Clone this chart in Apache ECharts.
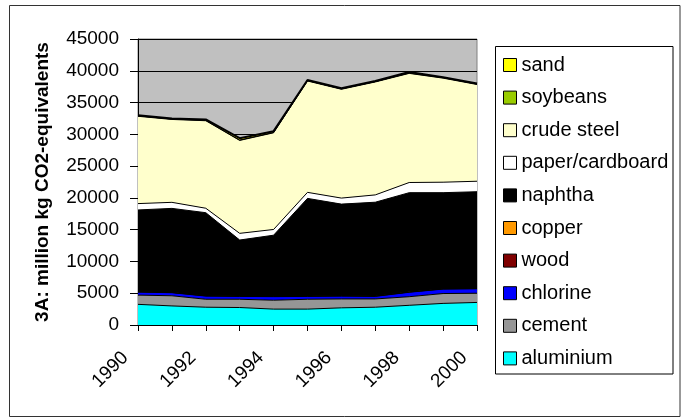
<!DOCTYPE html>
<html>
<head>
<meta charset="utf-8">
<script src="https://cdn.jsdelivr.net/npm/echarts@6/dist/echarts.min.js"></script>
<style>
  html, body { margin: 0; padding: 0; background: #fff; }
  #chart { width: 681px; height: 418px; }
</style>
</head>
<body>
<div id="chart"></div>
<script>
// years on the x axis
const years = ['1990', '1991', '1992', '1993', '1994', '1995', '1996', '1997', '1998', '1999', '2000']

// series values (million kg CO2-eq)
const sand       = [100, 100, 150, 300, 200, 100, 100, 100, 150, 100, 100]
const soybeans   = [60, 60, 60, 60, 60, 60, 60, 60, 60, 60, 60]
const crudeSteel = [13740, 13040, 13770, 14620, 15210, 17520, 17120, 17770, 17170, 16370, 15220]
const paper      = [1000, 950, 700, 1050, 900, 950, 950, 1150, 1600, 1650, 1650]
const naphtha    = [12850, 13200, 13050, 8800, 9600, 15350, 14400, 14750, 15600, 15100, 15200]
const copper     = [30, 30, 30, 30, 30, 30, 30, 30, 30, 30, 30]
const wood       = [40, 40, 40, 40, 40, 40, 40, 40, 40, 40, 40]
const chlorine   = [480, 480, 500, 450, 560, 450, 450, 400, 700, 700, 700]
const cement     = [1450, 1600, 1250, 1300, 1400, 1550, 1400, 1300, 1350, 1550, 1450]
const aluminium  = [3250, 3000, 2800, 2750, 2500, 2500, 2700, 2800, 3100, 3400, 3550]

// top of legend first, bottom of stack last
const seriesList = [
    {name: 'sand', data: sand, color: '#FFFF00'},
    {name: 'soybeans', data: soybeans, color: '#99CC00'},
    {name: 'crude steel', data: crudeSteel, color: '#FFFFCC'},
    {name: 'paper/cardboard', data: paper, color: '#FFFFFF'},
    {name: 'naphtha', data: naphtha, color: '#000000'},
    {name: 'copper', data: copper, color: '#FF9900'},
    {name: 'wood', data: wood, color: '#800000'},
    {name: 'chlorine', data: chlorine, color: '#0000FF'},
    {name: 'cement', data: cement, color: '#969696'},
    {name: 'aluminium', data: aluminium, color: '#00FFFF'}
]

const FONT = 'Liberation Sans, Arial, sans-serif'

const chart = echarts.init(document.getElementById('chart'))

chart.setOption({
    animation: false,
    textStyle: {fontFamily: FONT},
    grid: {
        left: 138,
        right: 204,
        top: 39,
        bottom: 93,
        show: true,
        backgroundColor: '#C0C0C0',
        borderColor: '#808080',
        borderWidth: 1
    },
    legend: {
        orient: 'vertical',
        left: 498,
        top: 50,
        icon: 'rect',
        itemWidth: 13,
        itemHeight: 13,
        itemGap: 12.6,
        itemStyle: {borderColor: '#000', borderWidth: 1},
        lineStyle: {width: 0},
        textStyle: {fontSize: 20, color: '#000', fontFamily: FONT},
        data: seriesList.map(s => s.name)
    },
    xAxis: {
        type: 'category',
        boundaryGap: false,
        data: years,
        axisLine: {lineStyle: {color: '#000', width: 1}},
        axisTick: {show: true, interval: 0, length: 6, lineStyle: {color: '#000'}},
        axisLabel: {
            interval: 1,
            rotate: 45,
            margin: 17,
            padding: [0, 18, 0, 0],
            fontSize: 19,
            color: '#000'
        }
    },
    yAxis: {
        type: 'value',
        min: 0,
        max: 45000,
        interval: 5000,
        name: '3A: million kg CO2-equivalents',
        nameLocation: 'middle',
        nameRotate: 90,
        nameGap: 86,
        nameTextStyle: {fontSize: 19, fontWeight: 'bold', color: '#000'},
        axisLine: {show: true, lineStyle: {color: '#000', width: 1}},
        axisTick: {show: true, length: 8, lineStyle: {color: '#000'}},
        axisLabel: {fontSize: 19, color: '#000', margin: 19, formatter: v => String(v)},
        splitLine: {show: true, lineStyle: {color: '#000', width: 1}}
    },
    series: seriesList.map(s => ({
        name: s.name,
        type: 'line',
        stack: 'total',
        stackOrder: 'seriesDesc',
        data: s.data,
        showSymbol: false,
        symbol: 'none',
        color: s.color,
        itemStyle: {color: s.color},
        lineStyle: {color: '#000', width: s.name === 'sand' ? 2 : 1},
        areaStyle: {color: s.color, opacity: 1}
    })),
    graphic: [
        {
            type: 'rect',
            shape: {x: 9.5, y: 5.5, width: 670.5, height: 411},
            style: {fill: null, stroke: '#333', lineWidth: 1},
            silent: true
        },
        {
            type: 'rect',
            shape: {x: 495.5, y: 46.5, width: 177.5, height: 327.5},
            style: {fill: null, stroke: '#000', lineWidth: 1},
            silent: true
        }
    ]
})
</script>
</body>
</html>
